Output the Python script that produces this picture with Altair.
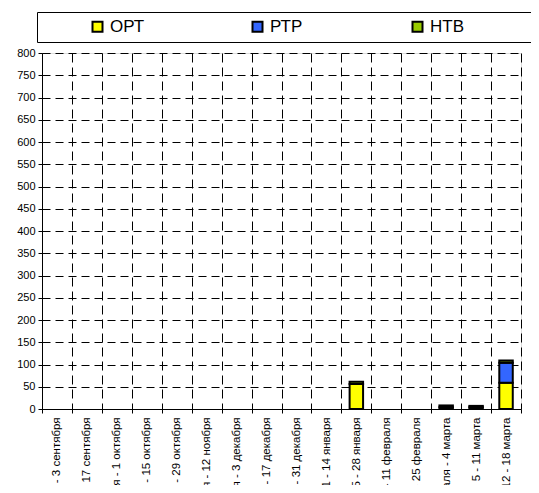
import altair as alt
import pandas as pd

periods = [
    "21 августа - 3 сентября",
    "4 - 17 сентября",
    "18 сентября - 1 октября",
    "2 - 15 октября",
    "16 - 29 октября",
    "30 октября - 12 ноября",
    "13 ноября - 3 декабря",
    "4 - 17 декабря",
    "18 - 31 декабря",
    "1 - 14 января",
    "15 - 28 января",
    "29 января - 11 февраля",
    "12 - 25 февраля",
    "26 февраля - 4 марта",
    "5 - 11 марта",
    "12 - 18 марта",
]
series = ["ОРТ", "РТР", "НТВ"]
opt = [0, 0, 0, 0, 0, 0, 0, 0, 0, 0, 56, 0, 0, 0, 0, 59]
ptp = [0, 0, 0, 0, 0, 0, 0, 0, 0, 0, 0, 0, 0, 4, 4, 45]
htb = [0, 0, 0, 0, 0, 0, 0, 0, 0, 0, 5, 0, 0, 4, 3, 5]
colors = ["#FFFF00", "#3366FF", "#99CC00"]
y_ticks = list(range(0, 801, 50))

rows = []
for i, p in enumerate(periods):
    for k, (s, vals) in enumerate(zip(series, [opt, ptp, htb])):
        rows.append({"period": p, "channel": s, "value": vals[i], "ord": k})
df = pd.DataFrame(rows)

FONT = "Liberation Sans"

chart = (
    alt.Chart(df)
    .transform_filter(alt.datum.value > 0)
    .mark_bar(stroke="black", strokeWidth=2, width=alt.RelativeBandSize(0.45))
    .encode(
        x=alt.X(
            "period:N",
            sort=periods,
            title=None,
            scale=alt.Scale(domain=periods, paddingInner=0, paddingOuter=0),
            axis=alt.Axis(
                labelAngle=-90,
                tickBand="extent",
                grid=True,
                gridDash=[9, 5],
                gridColor="black",
                gridWidth=1,
                gridOpacity=1,
                domainColor="black",
                tickColor="black",
                tickSize=4,
                labelFont=FONT,
                labelFontSize=11.5,
                labelColor="black",
                labelPadding=4,
                labelLimit=0,
            ),
        ),
        y=alt.Y(
            "value:Q",
            stack="zero",
            title=None,
            scale=alt.Scale(domain=[0, 800], nice=False),
            axis=alt.Axis(
                values=y_ticks,
                grid=True,
                gridDash=[8, 5],
                gridColor="black",
                gridWidth=1,
                gridOpacity=1,
                domainColor="black",
                tickColor="black",
                tickSize=4,
                labelFont=FONT,
                labelFontSize=11,
                labelColor="black",
                labelPadding=3,
            ),
        ),
        color=alt.Color(
            "channel:N",
            scale=alt.Scale(domain=series, range=colors),
            legend=alt.Legend(
                orient="none",
                legendX=-5,
                legendY=-41,
                direction="horizontal",
                columns=3,
                gridAlign="all",
                columnPadding=58,
                symbolType="square",
                symbolSize=100,
                symbolStrokeColor="black",
                symbolStrokeWidth=2,
                symbolOffset=46,
                labelFont=FONT,
                labelFontSize=17,
                labelColor="black",
                labelOffset=4,
                strokeColor="black",
                padding=6,
                title=" ",
                titleOrient="right",
                titlePadding=70,
            ),
        ),
        order=alt.Order("ord:Q"),
    )
    .properties(
        width=479,
        height=356,
        autosize=alt.AutoSizeParams(type="none"),
        padding={"left": 34, "top": 45, "right": 10, "bottom": 76},
    )
    .configure_view(stroke="black", strokeWidth=1)
    .configure(background="white")
)

chart.save("out.html", embed_options={"renderer": "svg", "actions": False})
